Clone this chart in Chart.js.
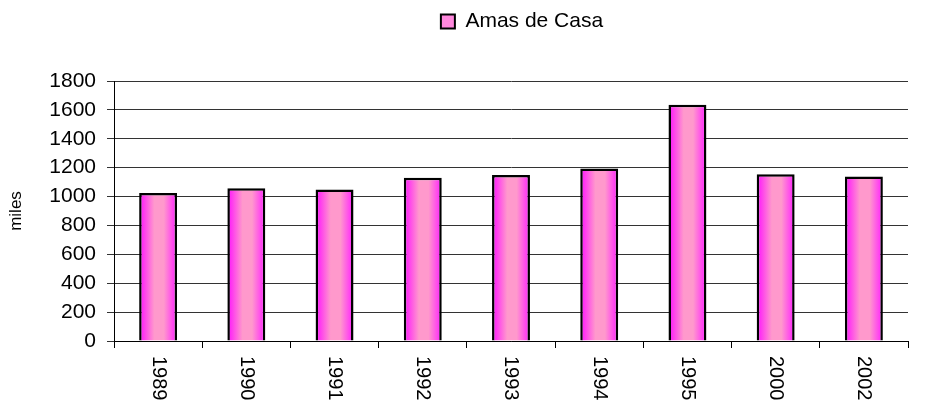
<!DOCTYPE html>
<html lang="es">
<head>
    <meta charset="UTF-8">
    <title>Amas de Casa</title>
    <script src="https://cdn.jsdelivr.net/npm/chart.js"></script>
    <style>
        html, body { margin: 0; padding: 0; background: #fff; }
        .box { width: 931px; height: 404px; }
    </style>
</head>
<body>
    <div class="box">
        <canvas id="grafico" width="931" height="404"></canvas>
    </div>

    <script>
        // datos
        var years = ["1989", "1990", "1991", "1992", "1993", "1994", "1995", "2000", "2002"];
        var amasDeCasa = [1025, 1058, 1049, 1130, 1150, 1195, 1636, 1155, 1139];
        var yTicks = [0, 200, 400, 600, 800, 1000, 1200, 1400, 1600, 1800];

        var FONT = "'Liberation Sans', Arial, sans-serif";
        var BAR_PCT = 0.43;

        // degradado horizontal de cada barra
        function barFill(context) {
            var chart = context.chart;
            var xs = chart.scales && chart.scales.x;
            if (!chart.chartArea || !xs || context.dataIndex === undefined) return "#ff88dd";
            var cx = xs.getPixelForValue(context.dataIndex);
            var w = (xs.width / years.length) * BAR_PCT;
            var g = chart.ctx.createLinearGradient(cx - w / 2, 0, cx + w / 2, 0);
            g.addColorStop(0, "#ff10ff");
            g.addColorStop(0.4, "#ff99cc");
            g.addColorStop(0.65, "#ff99cc");
            g.addColorStop(1, "#ff20ff");
            return g;
        }

        // etiquetas verticales del eje x (leidas de arriba a abajo)
        var verticalLabels = {
            id: "verticalLabels",
            afterLayout: function (chart) {
                // la leyenda esta algo a la derecha del centro del area
                if (chart.legend) {
                    chart.legend.left += 11;
                    chart.legend.right += 11;
                }
            },
            afterDraw: function (chart) {
                var xs = chart.scales.x;
                var ctx = chart.ctx;
                ctx.save();
                ctx.font = "20px " + FONT;
                ctx.fillStyle = "#000";
                ctx.textAlign = "left";
                ctx.textBaseline = "middle";
                for (var i = 0; i < years.length; i++) {
                    ctx.save();
                    ctx.translate(xs.getPixelForValue(i), xs.top + 15);
                    ctx.rotate(Math.PI / 2);
                    ctx.fillText(years[i], 0, 0);
                    ctx.restore();
                }
                ctx.restore();
            }
        };

        new Chart(document.getElementById("grafico"), {
            type: "bar",
            data: {
                labels: years,
                datasets: [{
                    label: "Amas de Casa",
                    data: amasDeCasa,
                    backgroundColor: barFill,
                    borderColor: "#000",
                    borderWidth: 2.5,
                    barPercentage: BAR_PCT,
                    categoryPercentage: 1
                }]
            },
            options: {
                responsive: false,
                animation: false,
                layout: { padding: { left: 0, right: 23, top: 0, bottom: 0 } },
                plugins: {
                    tooltip: { enabled: false },
                    legend: {
                        position: "top",
                        fullSize: false,
                        labels: {
                            font: { family: FONT, size: 21 },
                            color: "#000",
                            boxWidth: 14,
                            boxHeight: 14,
                            padding: 11,
                            generateLabels: function (chart) {
                                return [{
                                    text: "Amas de Casa",
                                    fillStyle: "#ff88dd",
                                    strokeStyle: "#000",
                                    lineWidth: 2,
                                    datasetIndex: 0
                                }];
                            }
                        }
                    }
                },
                scales: {
                    x: {
                        type: "category",
                        position: "bottom",
                        grid: { offset: true, drawOnChartArea: false, drawTicks: true, tickLength: 7, color: "#000" },
                        border: { color: "#000", width: 1 },
                        ticks: { display: false },
                        afterFit: function (s) { s.height = 63; }
                    },
                    xTop: {
                        type: "category",
                        position: "top",
                        display: true,
                        grid: { display: false },
                        border: { display: false },
                        ticks: { display: false },
                        afterFit: function (s) { s.height = 39; }
                    },
                    y: {
                        min: 0,
                        max: 1800,
                        afterBuildTicks: function (s) {
                            s.ticks = yTicks.map(function (v) { return { value: v }; });
                        },
                        grid: { color: "#333", tickLength: 7, drawTicks: true },
                        border: { color: "#000", width: 1 },
                        ticks: {
                            font: { family: FONT, size: 21 },
                            color: "#000",
                            padding: 11,
                            callback: function (v) { return String(v); }
                        },
                        title: {
                            display: true,
                            text: "miles",
                            color: "#000",
                            font: { family: FONT, size: 17 },
                            padding: { top: 6, bottom: 0 }
                        },
                        afterFit: function (s) { s.width = 114; }
                    }
                }
            },
            plugins: [verticalLabels]
        });
    </script>
</body>
</html>
